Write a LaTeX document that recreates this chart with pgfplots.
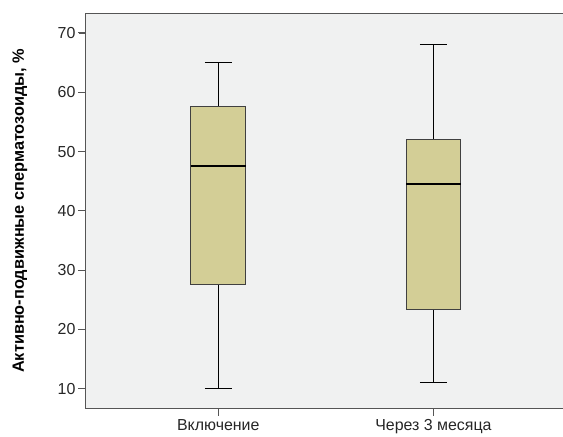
\documentclass[border=0pt]{standalone}
\usepackage{fontspec}
\setmainfont{Liberation Sans}
\usepackage{pgfplots}
\pgfplotsset{compat=1.18}
\usepgfplotslibrary{statistics}
\definecolor{boxfill}{RGB}{211,206,150}
\definecolor{bg}{RGB}{240,241,241}
\definecolor{axgray}{RGB}{85,85,85}
\begin{document}
\begin{tikzpicture}
\begin{axis}[
 scale only axis, width=477bp, height=396bp,
 xmin=0.385, xmax=2.6, ymin=6.63, ymax=73.37,
 axis line style={draw=none},
 axis background/.style={fill=bg},
 xtick={1,2}, xticklabels={Включение, Через 3 месяца},
 ytick={10,20,...,70},
 xtick pos=bottom, ytick pos=left,
 tick align=outside,
 major tick length=7bp,
 tick style={draw=axgray, line width=0.9pt},
 ticklabel style={font=\fontsize{16}{19}\selectfont, text=black!85},
 /pgf/number format/assume math mode=true,
 ylabel={Активно-подвижные сперматозоиды, \%},
 ylabel style={font=\bfseries\fontsize{16.4}{19}\selectfont, at={(axis description cs:0,0.5)}, yshift=66bp, anchor=center, rotate=0},
 clip=false,
 boxplot/draw direction=y,
]
\addplot[boxplot prepared={draw position=1, lower whisker=10, lower quartile=27.5, median=47.5, upper quartile=57.6, upper whisker=65.1, box extend=0.255, whisker extend=0.125, every median/.style={line width=2bp, draw=black}, every whisker/.style={line width=1bp, draw=black}}, draw=black!75, line width=1bp, fill=boxfill, solid] coordinates {};
\addplot[boxplot prepared={draw position=2, lower whisker=11, lower quartile=23.4, median=44.5, upper quartile=52, upper whisker=68.1, box extend=0.255, whisker extend=0.125, every median/.style={line width=2bp, draw=black}, every whisker/.style={line width=1bp, draw=black}}, draw=black!75, line width=1bp, fill=boxfill, solid] coordinates {};
\draw[axgray, line width=0.9pt] (rel axis cs:1,1) -- (rel axis cs:0,1) -- (rel axis cs:0,0) -- (rel axis cs:1,0);
\draw[axgray, line width=1bp] (axis cs:0.385,10) -- ([xshift=-8bp]axis cs:0.385,10);
\draw[axgray, line width=1bp] (axis cs:0.385,20) -- ([xshift=-8bp]axis cs:0.385,20);
\draw[axgray, line width=1bp] (axis cs:0.385,30) -- ([xshift=-8bp]axis cs:0.385,30);
\draw[axgray, line width=1bp] (axis cs:0.385,40) -- ([xshift=-8bp]axis cs:0.385,40);
\draw[axgray, line width=1bp] (axis cs:0.385,50) -- ([xshift=-8bp]axis cs:0.385,50);
\draw[axgray, line width=1bp] (axis cs:0.385,60) -- ([xshift=-8bp]axis cs:0.385,60);
\draw[axgray, line width=1bp] (axis cs:0.385,70) -- ([xshift=-8bp]axis cs:0.385,70);
\draw[axgray, line width=1bp] (axis cs:1,6.63) -- ([yshift=-7bp]axis cs:1,6.63);
\draw[axgray, line width=1bp] (axis cs:2,6.63) -- ([yshift=-7bp]axis cs:2,6.63);
\end{axis}
\path (current axis.north west) ++(0,13bp) coordinate (topext);
\path (topext) circle (0pt);
\path (current axis.west) ++(-86bp,0) coordinate (leftext);
\path (leftext) circle (0pt);
\end{tikzpicture}
\end{document}
